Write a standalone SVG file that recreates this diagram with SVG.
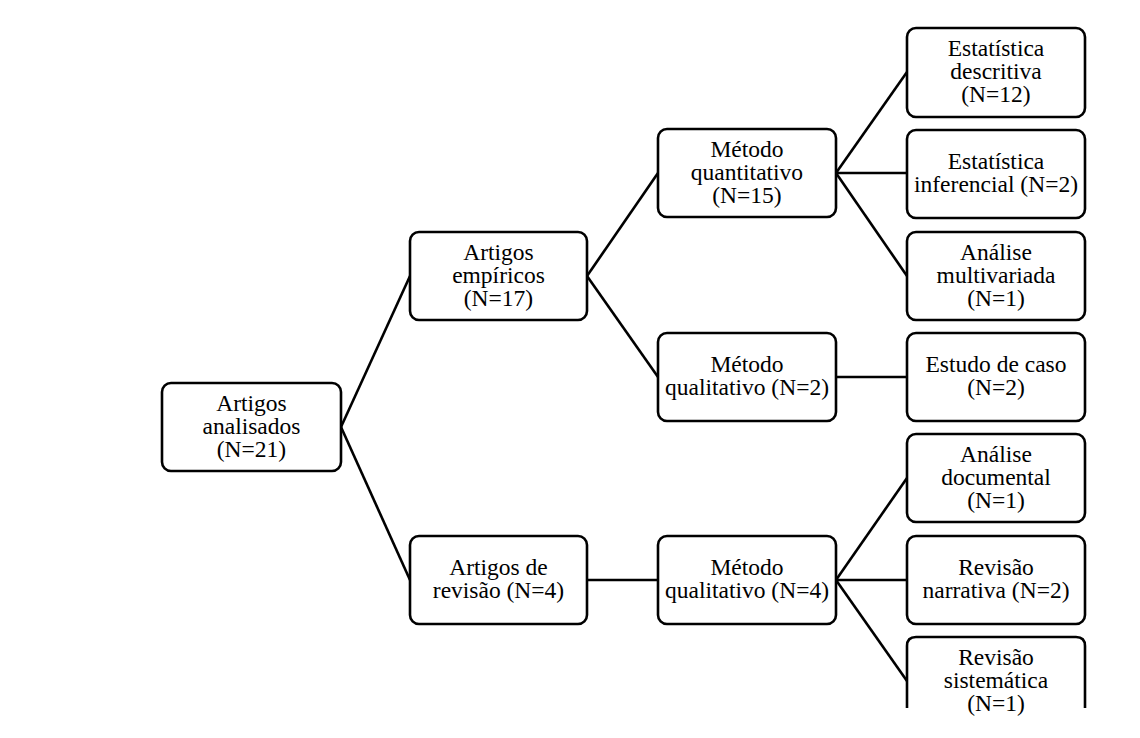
<svg xmlns="http://www.w3.org/2000/svg" width="1140" height="738" viewBox="0 0 1140 738">
<style>
.box{fill:#fff;stroke:#000;stroke-width:2.6}
.t{font-family:"Liberation Serif","Times New Roman",serif;font-size:23.5px;fill:#000;text-anchor:middle}
.c line{stroke:#000;stroke-width:2.6}
</style>
<rect width="1140" height="738" fill="#fff"/>
<g class="c" id="connectors">
<line x1="341" y1="427" x2="410" y2="276"/>
<line x1="341" y1="427" x2="410" y2="580"/>
<line x1="587" y1="276" x2="658" y2="173"/>
<line x1="587" y1="276" x2="658" y2="377"/>
<line x1="587" y1="580" x2="658" y2="580"/>
<line x1="836" y1="173" x2="907" y2="72"/>
<line x1="836" y1="173" x2="907" y2="173"/>
<line x1="836" y1="173" x2="907" y2="276"/>
<line x1="836" y1="377" x2="907" y2="377"/>
<line x1="836" y1="580" x2="907" y2="478"/>
<line x1="836" y1="580" x2="907" y2="580"/>
<line x1="836" y1="580" x2="907" y2="681"/>
</g>
<g id="root">
<rect class="box" x="162" y="383" width="179" height="88" rx="9"/>
<text class="t" x="251.5" y="411">Artigos<tspan x="251.5" dy="23">analisados</tspan><tspan x="251.5" dy="23">(N=21)</tspan></text>
</g>
<g id="empiricos">
<rect class="box" x="410" y="232" width="177" height="88" rx="9"/>
<text class="t" x="498.5" y="260">Artigos<tspan x="498.5" dy="23">empíricos</tspan><tspan x="498.5" dy="23">(N=17)</tspan></text>
</g>
<g id="revisao">
<rect class="box" x="410" y="536" width="177" height="88" rx="9"/>
<text class="t" x="498.5" y="575">Artigos de<tspan x="498.5" dy="23">revisão (N=4)</tspan></text>
</g>
<g id="quantitativo">
<rect class="box" x="658" y="129" width="178" height="88" rx="9"/>
<text class="t" x="747" y="157">Método<tspan x="747" dy="23">quantitativo</tspan><tspan x="747" dy="23">(N=15)</tspan></text>
</g>
<g id="qualitativo2">
<rect class="box" x="658" y="333" width="178" height="88" rx="9"/>
<text class="t" x="747" y="372">Método<tspan x="747" dy="23">qualitativo (N=2)</tspan></text>
</g>
<g id="qualitativo4">
<rect class="box" x="658" y="536" width="178" height="88" rx="9"/>
<text class="t" x="747" y="575">Método<tspan x="747" dy="23">qualitativo (N=4)</tspan></text>
</g>
<g id="descritiva">
<rect class="box" x="907" y="28" width="178" height="89" rx="9"/>
<text class="t" x="996" y="56">Estatística<tspan x="996" dy="23">descritiva</tspan><tspan x="996" dy="23">(N=12)</tspan></text>
</g>
<g id="inferencial">
<rect class="box" x="907" y="130" width="178" height="88" rx="9"/>
<text class="t" x="996" y="169">Estatística<tspan x="996" dy="23">inferencial (N=2)</tspan></text>
</g>
<g id="multivariada">
<rect class="box" x="907" y="232" width="178" height="88" rx="9"/>
<text class="t" x="996" y="260">Análise<tspan x="996" dy="23">multivariada</tspan><tspan x="996" dy="23">(N=1)</tspan></text>
</g>
<g id="caso">
<rect class="box" x="907" y="333" width="178" height="88" rx="9"/>
<text class="t" x="996" y="372">Estudo de caso<tspan x="996" dy="23">(N=2)</tspan></text>
</g>
<g id="documental">
<rect class="box" x="907" y="434" width="178" height="88" rx="9"/>
<text class="t" x="996" y="462">Análise<tspan x="996" dy="23">documental</tspan><tspan x="996" dy="23">(N=1)</tspan></text>
</g>
<g id="narrativa">
<rect class="box" x="907" y="536" width="178" height="88" rx="9"/>
<text class="t" x="996" y="575">Revisão<tspan x="996" dy="23">narrativa (N=2)</tspan></text>
</g>
<g id="sistematica">
<path class="box" d="M907,708 V646 Q907,637 916,637 H1076 Q1085,637 1085,646 V708"/>
<text class="t" x="996" y="665">Revisão<tspan x="996" dy="23">sistemática</tspan><tspan x="996" dy="23">(N=1)</tspan></text>
</g>
</svg>
